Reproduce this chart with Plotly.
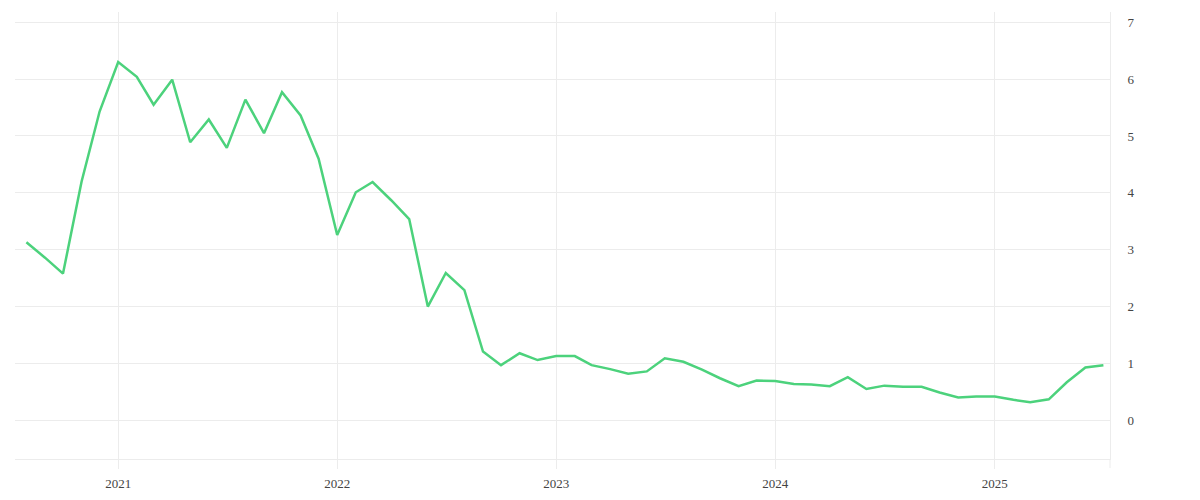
import plotly.graph_objects as go
import pandas as pd

# monthly series, Aug 2020 - Jul 2025
months = pd.date_range("2020-08-01", "2025-07-01", freq="MS")
values = [
    3.13, 2.86, 2.58, 4.20, 5.43,                                      # 2020 Aug-Dec
    6.30, 6.04, 5.55, 5.99, 4.89, 5.29, 4.79, 5.64, 5.05, 5.77, 5.36, 4.60,  # 2021
    3.26, 4.01, 4.19, 3.87, 3.54, 2.00, 2.59, 2.29, 1.21, 0.97, 1.18, 1.06,  # 2022
    1.13, 1.13, 0.97, 0.90, 0.82, 0.86, 1.09, 1.03, 0.89, 0.74, 0.60, 0.70,  # 2023
    0.69, 0.64, 0.63, 0.60, 0.76, 0.55, 0.61, 0.59, 0.59, 0.49, 0.40, 0.42,  # 2024
    0.42, 0.36, 0.32, 0.37, 0.67, 0.93, 0.97,                          # 2025 Jan-Jul
]

grid = "#ececec"
font = dict(family="Liberation Serif, DejaVu Serif, serif", size=13, color="#444")

fig = go.Figure(go.Scatter(
    x=months,
    y=values,
    mode="lines",
    line=dict(color="#4cd27c", width=2.5),
    hoverinfo="x+y",
))

# page body has an 8px margin, so the figure is a bit smaller than the window
fig.update_layout(
    width=1192,
    height=492,
    margin=dict(l=7, r=90, t=4, b=41),
    plot_bgcolor="white",
    paper_bgcolor="white",
    font=font,
    showlegend=False,
    xaxis=dict(
        range=["2020-07-13", "2025-07-12"],
        dtick="M12",
        tick0="2021-01-01",
        tickformat="%Y",
        showgrid=True,
        gridcolor=grid,
        showline=True,
        linecolor=grid,
        ticks="outside",
        ticklen=9,
        tickcolor=grid,
        zeroline=False,
        ticklabelstandoff=3,
    ),
    yaxis=dict(
        side="right",
        range=[-0.68, 7.18],
        dtick=1,
        showgrid=True,
        gridcolor=grid,
        showline=True,
        linecolor=grid,
        zeroline=False,
        ticklabelstandoff=14,
    ),
    shapes=[dict(
        type="line", xref="paper", yref="paper",
        x0=1, x1=1, y0=0, y1=-9 / 447,
        line=dict(color=grid, width=1),
    )],
)

fig.write_html("out.html")
